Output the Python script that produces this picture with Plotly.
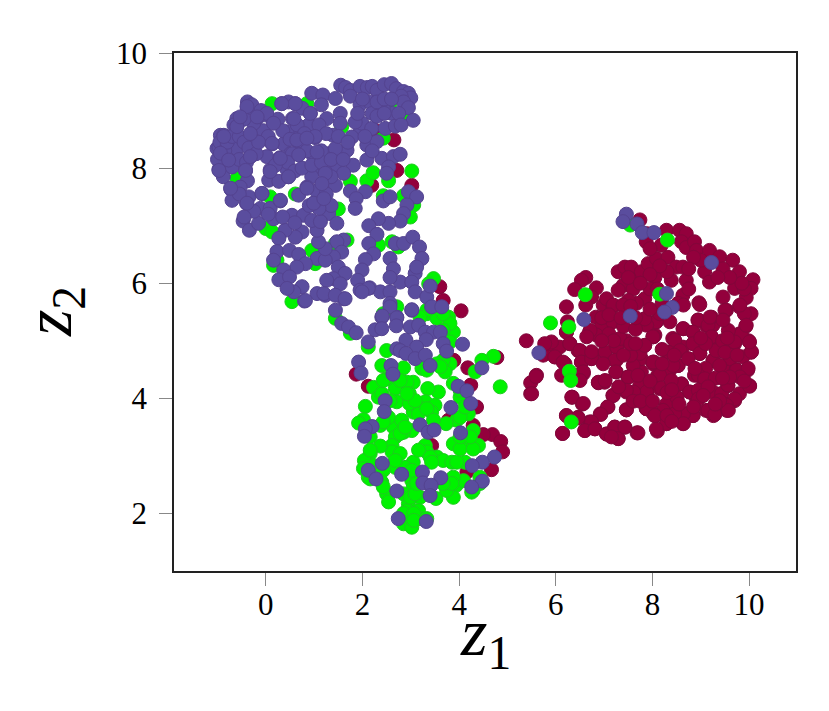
import plotly.graph_objects as go

# points, (z1, z2)
red_points = [
    (2.65,8.49),(2.23,8.67),(3.02,7.7),(2.19,7.7),(2.78,8.86),(2.71,7.96),(3.6,5.94),
    (4.04,5.52),(3.67,5.7),(1.87,4.42),(2.12,4.21),(3.89,4.66),(4.18,4.53),(4.78,4.71),
    (4.24,4.23),(4.36,3.85),(3.78,3.62),(4.69,3.37),(4.5,3.37),(4.86,3.25),(4.9,3.07),
    (4.67,2.76),(3.43,3.18),(4.29,3.53),(4.16,2.72),
    (5.39,5.0),(5.81,4.92),(5.91,4.95),(5.74,4.75),(5.98,4.72),(6.08,4.89),(6.29,4.95),
    (6.46,4.83),(6.19,4.6),(5.6,4.4),(5.48,4.27),(5.48,4.08),(6.34,4.02),(6.55,3.9),
    (6.22,5.59),(6.22,5.15),(6.62,6.1),(6.53,6.05),(6.39,5.89),(6.84,5.92),(6.74,5.76),
    (6.62,5.62),(6.83,5.41),(6.98,5.62),(7.05,5.73),(7.18,5.6),(7.43,5.6),(7.29,6.2),
    (7.43,6.28),(7.56,6.28),(7.39,5.96),(7.6,6.06),(7.29,5.88),(7.6,5.9),(7.77,6.2),
    (7.91,6.34),(8.08,6.43),(8.32,6.45),(8.05,6.1),(7.84,5.73),(7.67,5.65),(7.5,5.7),
    (8.49,6.28),(8.63,6.28),(8.39,6.05),(8.7,6.05),(8.63,5.79),(8.96,5.66),(8.53,5.65),
    (8.36,5.33),(7.84,5.38),(8.08,5.33),(8.05,5.1),(7.89,6.86),(7.74,7.1),(7.87,6.72),
    (8.18,6.66),(8.29,6.92),(8.56,6.92),(8.7,6.86),(8.6,6.72),(8.7,6.62),(8.87,6.72),
    (8.91,6.57),(9.18,6.57),(9.08,6.2),(9.18,6.02),(9.39,6.46),(9.66,6.4),(9.46,6.25),
    (9.8,6.2),(10.08,6.06),(10.04,5.91),(9.7,5.91),(9.46,5.76),(9.53,5.53),(9.8,5.59),
    (9.94,5.75),(10.04,5.47),(9.9,5.47),(9.93,5.25),(9.8,5.12),(9.7,4.95),(9.99,5.0),
    (10.04,4.8),(9.87,4.72),(9.25,5.27),(9.11,5.27),(8.94,5.36),(9.22,5.41),(8.84,5.15),
    (8.63,5.21),(9.22,5.07),(8.84,4.95),(9.32,4.85),(8.98,4.78),(8.63,4.89),(8.42,5.04),
    (8.32,4.8),(8.53,4.57),(8.36,4.49),(9.25,4.66),(9.6,4.49),(9.73,4.5),(9.97,4.49),
    (10.01,4.22),(9.8,4.08),(9.7,3.96),(9.53,3.9),(9.42,4.08),(9.56,4.22),(9.25,4.11),
    (9.11,3.79),(9.26,3.7),(9.54,3.79),(8.91,4.0),(8.77,4.11),(9.01,4.37),(8.6,4.25),
    (8.87,4.4),(8.49,4.02),(8.7,3.73),(8.84,3.7),(8.46,3.76),(8.63,3.56),(8.29,3.56),
    (8.1,3.43),(8.05,3.7),(7.87,3.82),(8.29,3.9),(8.15,4.17),(7.87,4.11),(7.63,4.09),
    (7.46,4.11),(7.46,3.8),(7.18,4.05),(7.08,3.85),(6.92,3.73),(7.22,3.5),(7.43,3.5),
    (7.68,3.4),(7.29,3.3),(7.05,3.38),(6.81,3.47),(6.7,3.59),(6.6,3.44),(6.46,3.67),
    (6.22,3.7),(6.14,3.39),(6.88,4.27),(7.01,4.28),(7.25,4.46),(7.49,4.37),(7.63,4.56),
    (8.01,4.6),(8.11,4.4),(7.77,4.46),(7.25,4.66),(7.01,4.78),(6.74,4.69),(6.53,4.63),
    (6.57,4.43),(6.39,4.4),(6.12,4.4),(7.25,4.89),(7.46,5.0),(7.7,4.78),(8.01,5.07),
    (7.08,5.12),(6.94,5.24),(6.7,5.15),(6.84,5.1),(7.18,5.33),
    # second pass, right half of the blob
    (8.64,5.21),(8.95,5.36),(9.15,5.27),(9.22,5.07),(8.84,5.15),(8.84,4.95),(8.98,4.78),
    (8.46,5.01),(8.33,4.8),(8.57,4.83),(8.02,5.07),(7.84,4.92),(8.03,4.63),(7.77,4.69),
    (8.53,4.57),(8.74,4.69),(8.43,4.57),(9.26,4.66),(9.32,4.83),(9.6,4.69),(9.74,4.49),
    (9.98,4.52),(10.05,4.81),(9.84,5.12),(10.01,4.98),(9.7,4.98),(9.1,4.52),(8.95,4.4),
    (9.08,4.34),(8.6,4.25),(8.15,4.4),(8.19,4.18),(7.88,4.11),(8.77,4.11),(8.95,4.14),
    (8.95,3.99),(8.51,4.01),(9.43,4.08),(9.56,4.23),(9.81,4.37),(10.01,4.21),(9.7,3.99),
    (9.53,3.88),(9.57,3.79),(9.39,3.96),(9.15,3.79),(9.29,3.72),(8.84,3.7),(8.64,3.73),
    (8.46,3.73),(8.64,3.56),(8.29,3.56),(8.08,3.47),(8.22,3.79),(7.88,3.82),(8.02,3.73),
    (9.19,5.41),(9.5,5.53),(9.81,5.62),(9.94,5.27),(9.57,5.18),(9.46,5.36),(8.98,5.63),
    (8.64,5.62),(8.08,5.33),(7.88,5.27),(8.15,5.47),(8.88,4.52),(9.39,4.57),(9.6,4.37),
    (7.74,4.25),(8.39,4.31),
    # second pass, left half of the blob
    (6.24,5.33),(6.22,5.15),(6.71,5.18),(6.64,5.07),(7.1,5.12),(7.19,5.62),(7.39,5.62),
    (7.84,5.38),(8.01,5.07),(6.29,4.95),(5.91,4.98),(5.77,4.95),(5.98,4.72),(6.15,4.63),
    (6.5,4.83),(6.53,4.63),(6.74,4.69),(6.74,4.81),(7.02,4.81),(7.26,4.89),(7.22,4.66),
    (7.33,5.04),(7.74,4.78),(7.84,4.92),(8.01,4.63),(7.6,4.57),(7.24,4.46),(6.98,4.6),
    (7.5,4.37),(7.7,4.4),(7.88,4.11),(7.61,4.11),(7.46,4.14),(6.88,4.28),(7.02,4.31),
    (6.57,4.46),(6.5,4.31),(5.59,4.38),(5.5,4.08),(6.33,4.02),(6.57,3.91),(7.19,4.05),
    (7.07,3.85),(6.93,3.72),(7.46,3.8),(7.88,3.82),(8.05,3.7),(6.22,3.7),(6.46,3.66),
    (6.74,3.59),(6.6,3.44),(6.14,3.39),(6.81,3.47),(7.05,3.38),(7.22,3.5),(7.29,3.3),
    (7.43,3.5),(7.7,3.4),(7.15,3.33),
    # gaps still open after the second pass
    (7.3,4.2),(7.6,3.95),(7.75,3.95),(8.0,3.95),(8.3,4.1),(8.4,4.15),(7.95,4.3),(7.55,4.75),
    (7.4,4.75),(7.55,4.95),(7.4,5.25),(7.65,5.2),(7.2,5.0),(6.95,5.0),(7.65,4.95),(8.2,4.85),
    (8.2,4.6),(8.45,4.75),(9.1,4.95),(9.0,5.05),(9.45,5.0),(9.5,4.8),(9.55,5.05),(9.75,4.75),
    (9.9,4.3),(9.3,4.35),(9.45,4.35),(9.15,4.2),(9.05,4.05),(9.3,3.9),(8.85,3.85),(8.55,3.9),
    (8.3,3.7),(8.4,3.6),(7.65,5.4),(7.55,5.6),(7.95,5.55),(8.2,5.65),(7.95,5.9),(8.1,5.9),
    (8.3,6.2),(8.15,6.3),(7.95,6.15),(7.5,6.1),(7.75,6.0),(6.95,5.4),(7.1,5.45),(7.35,5.4),
    (9.9,5.9),(9.85,6.0),(9.6,6.1),(9.0,6.4),(8.85,6.45),(8.75,6.25),(9.35,6.1),(8.75,5.9),
    (7.95,6.6),
]

green_points = [
    (8.31,6.75),(6.61,5.8),(8.15,5.81),(5.89,5.31),(6.27,5.24),(6.28,4.47),(6.31,4.31),
    (6.32,3.59),(7.54,7.01),
    (4.71,4.73),(4.47,4.66),(4.33,4.46),(4.85,4.2),(3.88,4.26),(4.02,4.02),(4.19,3.73),
    (3.95,3.62),(3.73,3.56),(3.57,4.11),(3.35,4.17),(3.05,4.28),(2.92,4.28),(2.68,4.17),
    (2.23,4.19),(2.33,4.02),(2.71,3.94),(2.97,4.08),(3.3,3.94),(3.21,3.82),(3.5,3.88),
    (3.05,3.76),(2.06,3.86),(2.02,3.63),(1.92,3.57),(2.37,3.53),(2.64,3.5),(2.54,3.67),
    (2.81,3.62),(3.02,3.44),(2.85,3.41),(2.68,3.33),(2.61,3.18),(2.61,3.07),(2.78,3.04),
    (2.37,3.17),(2.16,3.04),(2.04,2.92),(2.02,2.78),(2.12,2.63),(2.4,2.54),(2.68,2.8),
    (3.05,2.89),(3.3,3.18),(3.33,3.07),(3.54,2.98),(3.67,2.92),(3.85,2.89),(4.12,2.89),
    (3.88,3.21),(4.16,3.27),(4.4,3.18),(4.29,3.44),(3.78,2.4),(3.94,2.49),(3.88,2.28),
    (3.52,2.26),(3.02,2.57),(3.05,2.46),(2.5,2.34),(2.54,2.2),(2.95,2.17),(2.92,2.05),
    (3.19,2.28),(3.16,2.05),(3.19,1.91),(2.85,1.82),(3.02,1.76),(4.26,2.37),(4.09,2.57),
    (3.88,2.63),(4.43,2.63),(2.5,4.83),(2.4,4.57),(2.85,4.53),(2.5,4.34),(3.23,4.52),
    (3.81,4.6),(3.67,4.66),(3.71,4.46),(3.54,4.6),(2.12,4.89),(3.88,5.15),(3.78,5.41),
    (3.81,5.3),(3.33,5.47),(3.54,5.39),(1.75,5.13),(1.44,5.39),(3.81,4.98),
    (-0.6,7.82),(0.54,5.68),(0.16,6.31),(0.23,6.4),(3.02,7.95),(2.54,7.78),(2.09,7.78),
    (2.22,7.92),(1.75,7.77),(1.5,7.29),(2.85,7.52),(3.06,7.36),(2.99,7.15),(2.43,7.52),
    (0.61,7.55),(0.09,7.5),(0.0,6.95),(0.13,6.89),(0.95,6.57),(1.02,6.34),(1.44,6.69),
    (1.68,6.75),(2.33,6.66),(2.61,6.72),(2.74,6.63),(3.47,6.08),(3.37,5.99),(3.33,5.53),
    (2.71,5.59),(2.43,5.47),(2.85,8.86),(2.43,8.52),(1.57,8.72),(2.57,9.12),(0.85,9.12),
    (0.13,9.12),
    # second pass, lower cluster
    (2.78,3.39),(2.88,3.5),(2.16,3.33),(2.16,3.1),(2.23,2.83),(2.43,2.75),(2.37,2.57),
    (2.88,2.8),(3.02,2.75),(3.16,3.1),(3.4,2.98),(3.43,2.89),(3.95,2.89),(4.02,3.12),
    (4.29,3.12),(4.23,3.33),(4.02,3.33),(4.02,3.67),(4.12,3.85),(4.02,4.14),(3.43,3.76),
    (3.16,3.73),(2.97,3.91),(3.09,3.96),(3.33,3.82),(3.47,3.62),(2.43,3.59),(2.4,4.08),
    (2.57,3.96),(2.78,4.31),(2.92,4.08),(2.43,4.31),(2.85,2.34),(2.99,2.28),(3.09,2.34),
    (2.85,2.0),(3.06,2.0),(3.06,1.88),(3.33,1.91),(3.74,2.4),(3.85,2.52),(4.29,2.4),
    (4.43,2.52),(3.67,2.52),(3.12,2.52),(2.43,2.46),(2.16,2.6),(2.68,2.92),(3.61,4.55),
    (3.19,5.41),(3.67,5.18),(3.67,5.47),(3.33,4.49),
]

purple_points = [
    (1.55,9.44),(1.65,9.4),(1.75,9.35),(1.95,9.42),(2.1,9.4),(2.2,9.42),(2.3,9.35),
    (2.45,9.45),(2.6,9.47),(2.7,9.38),(2.85,9.33),(2.95,9.3),(3.0,9.22),(2.8,9.25),
    (0.95,9.3),(1.18,9.27),(1.15,9.1),(1.44,9.21),(1.75,9.25),(1.95,9.1),(2.15,9.15),
    (2.2,8.95),(2.61,8.95),(2.85,9.15),(2.95,9.05),(3.05,8.83),(-0.38,9.15),(-0.38,9.04),
    (-0.29,9.1),(-0.6,8.86),(-0.66,8.75),(-0.94,8.57),(-0.87,8.57),(-1.01,8.34),(-0.97,8.37),
    (-0.94,8.25),(-0.97,7.98),(-0.88,7.85),(-0.77,8.14),(-0.7,8.02),(-0.6,8.72),(-0.3,8.6),
    (-0.11,8.6),(-0.18,8.86),(0.02,8.92),(0.16,8.8),(0.33,9.12),(0.47,9.15),(0.61,9.12),
    (0.75,9.04),(0.92,8.95),(0.55,8.86),(0.68,8.69),(0.44,8.63),(0.89,8.75),(1.26,8.86),
    (1.39,8.57),(1.02,8.53),(0.66,8.46),(0.37,8.42),(0.13,8.42),(-0.11,8.49),(-0.32,8.2),
    (-0.6,8.34),(-0.42,7.96),(-0.38,7.78),(-0.53,7.67),(-0.72,7.63),(-0.7,7.44),(-0.4,7.39),
    (-0.35,7.5),(-0.08,7.56),(0.09,7.97),(0.06,7.79),(0.27,7.77),(0.47,7.85),(0.44,7.97),
    (0.02,8.2),(0.29,8.18),(0.68,8.24),(0.51,8.25),(0.99,8.2),(1.3,8.25),(1.68,8.31),
    (1.44,8.34),(1.47,8.02),(1.81,8.05),(2.09,8.4),(2.3,8.46),(2.4,8.17),(2.64,8.2),
    (2.78,8.24),(2.54,8.02),(2.5,7.91),(2.09,8.14),(1.95,8.63),(1.78,8.54),(1.99,8.78),
    (1.85,8.8),(2.19,8.69),(2.47,8.69),(2.68,8.73),(2.43,9.04),(1.54,8.95),(1.54,8.78),
    (1.06,8.02),(0.95,7.85),(1.23,7.94),(1.2,7.73),(1.44,7.7),(0.85,7.67),(0.68,7.53),
    (1.61,7.91),(1.75,7.6),(2.06,7.59),(1.87,7.47),(1.85,7.3),(2.43,7.43),(2.57,7.5),
    (2.95,7.59),(3.12,7.5),(2.92,7.36),(2.85,7.21),(2.78,7.08),(2.54,7.04),(2.33,7.12),
    (2.13,7.0),(2.3,6.85),(2.13,6.69),(2.23,6.51),(2.06,6.41),(2.57,6.43),(2.64,6.25),
    (1.99,6.23),(1.9,6.05),(1.95,5.88),(2.15,5.92),(2.37,5.85),(2.57,5.85),(2.78,6.02),
    (3.09,6.17),(3.02,6.02),(3.09,5.85),(3.33,5.76),(3.43,5.59),(2.68,6.69),(2.85,6.69),
    (3.04,6.8),(3.18,6.63),(3.23,6.43),(3.12,6.28),(2.57,6.1),(2.57,5.65),(2.4,5.41),
    (2.71,5.41),(3.02,5.53),(1.61,6.75),(1.47,6.72),(1.57,6.54),(1.4,6.46),(1.5,6.28),
    (1.64,6.17),(1.4,6.08),(1.26,6.05),(1.54,5.99),(1.06,6.43),(1.23,6.4),(1.23,6.6),
    (1.09,6.72),(1.06,6.92),(0.75,6.89),(0.61,6.8),(0.4,6.92),(0.27,6.78),(0.23,6.55),
    (0.16,6.4),(0.49,6.57),(0.68,6.5),(0.82,6.34),(0.64,6.28),(0.37,6.23),(0.27,6.06),
    (0.49,6.11),(0.75,5.94),(0.58,5.85),(0.44,5.91),(0.8,5.69),(1.06,5.82),(1.23,5.79),
    (1.44,5.53),(1.61,5.73),(-0.47,7.08),(-0.34,6.92),(-0.15,7.04),(-0.11,7.3),(0.09,7.3),
    (0.3,7.43),(0.16,7.12),(0.54,7.18),(0.78,7.18),(0.95,7.09),(0.99,7.39),(1.23,7.44),
    (1.3,7.21),(1.47,7.04),(1.13,7.07),
    (-0.95,8.45),(-1.0,8.15),(-0.85,8.3),(-0.8,8.45),(-0.7,8.55),(-0.55,8.55),(-0.45,8.45),
    (-0.35,8.35),(-0.55,8.15),(-0.4,8.1),(-0.2,8.25),(-0.05,8.65),(0.05,8.55),(-0.25,8.78),
    (-0.45,8.85),(-0.1,9.0),(-0.15,8.45),(0.25,8.85),(0.35,8.65),(0.5,8.5),(0.65,8.75),
    (0.8,8.6),(1.1,8.75),(1.25,8.6),(1.5,8.55),(1.15,8.3),(0.85,8.3),(0.55,8.25),(0.45,8.1),
    (0.2,8.05),(0.6,7.95),(0.75,8.0),(0.95,8.05),(1.15,8.1),(1.35,8.15),(1.6,8.15),(1.7,8.45),
    (1.35,7.85),(1.05,7.6),(1.25,7.55),(1.35,7.35),(1.1,7.3),(0.9,7.35),(-0.55,7.55),
    (-0.25,7.25),(-0.45,7.15),(0.05,7.2),(0.35,7.15),(0.6,7.05),(2.0,9.2),(2.3,9.15),
    (2.45,9.2),(2.6,9.2),(1.9,8.95),(2.3,8.9),(2.45,8.95),(2.75,8.95),(2.8,8.75),(2.05,8.55),
    (2.2,8.3),
    (-0.39,9.07),(-0.6,8.72),(-0.87,8.55),(-0.32,8.6),(0.02,8.95),(0.64,8.49),(0.13,8.43),
    (0.68,8.23),(0.3,8.17),(-0.32,8.2),(-0.94,8.26),(-0.77,8.14),(-0.97,7.96),(-0.42,7.96),
    (-0.73,7.65),(-0.39,7.39),(-0.08,7.56),(0.09,7.94),(0.3,7.44),(0.47,7.85),(0.85,7.65),
    (1.02,8.55),(0.85,8.52),(1.06,8.28),(1.23,7.91),(1.16,7.73),(0.99,7.39),(1.2,7.47),
    (0.61,9.12),(0.33,9.12),(0.92,8.95),(0.58,8.86),(0.16,8.78),(-0.18,8.89),(-0.53,8.89),
    (0.82,5.7),(1.2,5.82),(1.44,5.79),(1.64,5.73),(1.57,5.3),(1.71,5.24),(1.87,5.14),
    (2.12,4.98),(2.12,5.91),(1.99,5.85),(3.4,5.95),(2.57,5.59),(2.41,5.43),(2.71,5.4),
    (3.02,5.54),(2.26,5.19),(2.4,5.21),(2.7,5.26),(2.99,5.24),(3.16,5.27),(3.3,5.15),
    (3.47,5.15),(3.61,5.15),(3.32,5.02),(2.9,5.01),(3.67,4.95),(3.74,4.82),(4.07,4.94),
    (3.12,4.89),(2.71,4.86),(2.78,4.83),(2.9,4.78),(3.09,4.69),(3.3,4.75),(3.4,4.57),
    (3.64,5.59),(1.92,4.63),(1.97,4.44),(2.59,4.57),(2.63,4.42),(3.98,4.21),(4.16,4.13),
    (4.24,3.91),(3.83,3.84),(4.47,4.53),(2.47,3.96),(2.45,3.77),(3.19,3.54),(3.36,3.41),
    (3.48,3.45),(4.03,3.4),(2.2,3.51),(2.06,3.47),(2.04,3.34),(4.73,2.98),(4.48,2.89),
    (4.27,2.83),(2.41,2.87),(2.12,2.75),(2.28,2.6),(2.81,2.68),(3.24,2.72),(3.62,2.62),
    (3.25,2.53),(3.42,2.49),(3.4,2.31),(2.71,2.39),(4.48,2.56),(4.26,2.46),(2.74,1.91),
    (3.32,1.86),
    (7.46,7.2),(7.39,7.07),(7.68,7.03),(7.79,6.88),(8.03,6.88),(9.22,6.36),(8.29,5.82),
    (8.41,5.58),(8.25,5.5),(7.54,5.43),(6.58,5.37),(5.65,4.79),
]

x_ticks = [0, 2, 4, 6, 8, 10]
y_ticks = [2, 4, 6, 8, 10]

series = [
    (red_points, "#93003c", "#82063a"),
    (green_points, "#00f200", "#1ecb1e"),
    (purple_points, "#5a4d9e", "#544390"),
]

fig = go.Figure()
for points, fill, edge in series:
    fig.add_trace(go.Scatter(
        x=[p[0] for p in points],
        y=[p[1] for p in points],
        mode="markers",
        marker=dict(size=14, color=fill, line=dict(color=edge, width=1)),
        showlegend=False,
    ))

serif = "Liberation Serif"
axis_common = dict(
    showgrid=False, zeroline=False, showline=True, mirror=True,
    linecolor="#222222", linewidth=1.5,
    ticks="outside", ticklen=13, tickwidth=1, tickcolor="#888888",
    tickfont=dict(family=serif, size=31, color="black"),
)
fig.update_xaxes(range=[-1.9, 10.97], tickvals=x_ticks, ticklabelstandoff=-8, **axis_common)
fig.update_yaxes(range=[1.0, 10.0], tickvals=y_ticks, ticklabelstandoff=6, **axis_common)

# axis names as annotations, plotly's axis titles would not sit this close to the ticks
title_font = dict(family=serif, size=68, color="black")
fig.add_annotation(text="<i>z</i><sub>1</sub>", xref="paper", yref="paper",
                   x=0.5, y=-0.212, xanchor="center", yanchor="bottom",
                   showarrow=False, font=title_font)
fig.add_annotation(text="<i>z</i><sub>2</sub>", xref="paper", yref="paper",
                   x=-0.2675, y=0.5, xanchor="left", yanchor="middle", textangle=-90,
                   showarrow=False, font=title_font)

# the page keeps an 8px body margin, so the figure is that much smaller than the window
fig.update_layout(
    width=821, height=703, autosize=False,
    margin=dict(l=165.5, r=33, t=45, b=140, autoexpand=False),
    plot_bgcolor="white", paper_bgcolor="white",
)

fig.write_html("out.html")
